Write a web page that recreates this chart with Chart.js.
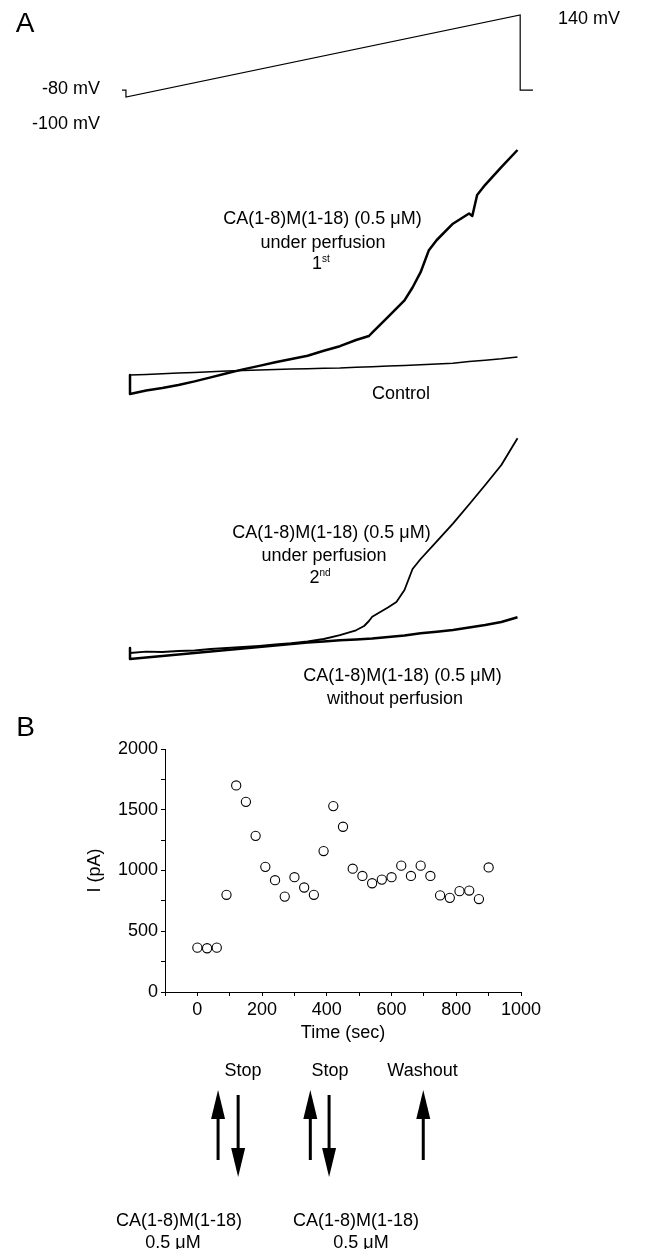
<!DOCTYPE html>
<html>
<head>
<meta charset="utf-8">
<script src="https://cdn.jsdelivr.net/npm/chart.js@4/dist/chart.umd.min.js"></script>
<style>
  body { margin: 0; background: #fff; }
  #page { position: relative; width: 655px; height: 1249px; overflow: hidden;
          font-family: 'Liberation Sans', Arial, sans-serif; color: #000; }
  #page canvas { position: absolute; left: 0; }
  .lbl { position: absolute; white-space: nowrap; font-size: 18px; line-height: 1; }
  .lbl sup { font-size: 10px; line-height: 0; vertical-align: 7px; }
</style>
</head>
<body>
<div id="page">
  <canvas id="ramp" width="655" height="140" style="top:0px"></canvas>
  <canvas id="traces1" width="655" height="280" style="top:130px"></canvas>
  <canvas id="traces2" width="655" height="290" style="top:420px"></canvas>
  <canvas id="timecourse" width="655" height="519" style="top:730px"></canvas>
</div>
<script>
// voltage protocol (ms, mV)
const rampTime = [-4, 0, 0, 400, 400, 413];
const rampVolt = [-80, -80, -100, 140, -80, -80];

// panel A, first pair of ramp currents (mV, pA)
const controlVolt = [-100, -90, -80, -70, -60, -50, -40, -30, -20, -10, 0, 10, 20, 30, 40, 50, 60, 70, 80, 90, 100, 110, 120, 130, 140];
const controlCurr = [-30, -25, -18, -11, -4, 2, 9, 15, 20, 24, 29, 33, 37, 40, 47, 53, 60, 66, 73, 80, 87, 104, 118, 132, 150];

const firstVolt = [-100, -100, -90, -80, -70, -60, -50, -40, -30, -20, -10, 0, 10, 20, 30, 40, 48, 50, 60, 70, 75, 80, 85, 90, 100, 110, 112, 115, 120, 130, 140];
const firstCurr = [-30, -220, -185, -160, -130, -94, -54, -12, 26, 61, 97, 130, 163, 212, 258, 320, 360, 393, 554, 716, 845, 998, 1214, 1320, 1483, 1585, 1560, 1770, 1872, 2049, 2220];

// panel A, second pair
const secondVolt = [-100, -100, -90, -80, -70, -60, -50, -40, -30, -20, -10, 0, 10, 20, 30, 40, 45, 48, 50, 60, 65, 70, 75, 80, 90, 100, 110, 120, 130, 140];
const secondCurr = [20, -30, -17, -20, -10, -5, 10, 20, 30, 42, 55, 68, 85, 110, 148, 197, 240, 290, 333, 428, 480, 600, 810, 910, 1086, 1264, 1455, 1650, 1850, 2117];

const noPerfVolt = [-100, -100, -90, -80, -70, -60, -50, -40, -30, -20, -10, 0, 10, 20, 30, 40, 50, 60, 70, 80, 90, 100, 110, 120, 130, 140];
const noPerfCurr = [20, -90, -75, -60, -45, -30, -15, 0, 15, 30, 45, 60, 74, 85, 98, 105, 114, 130, 145, 168, 183, 200, 225, 250, 280, 327];

// panel B, current at +140 mV over time
const times = [0, 30, 60, 90, 120, 150, 180, 210, 240, 270, 300, 330, 360, 390, 420, 450, 480, 510, 540, 570, 600, 630, 660, 690, 720, 750, 780, 810, 840, 870, 900];
const currents = [365, 360, 365, 800, 1700, 1565, 1285, 1030, 920, 785, 945, 860, 800, 1160, 1530, 1360, 1015, 955, 895, 925, 945, 1040, 955, 1040, 955, 795, 775, 830, 835, 765, 1025];
const applyTimes = [64, 349, 698];  // up arrows (application / washout)
const stopTimes = [126, 407];       // down arrows (stop)

const family = "'Liberation Sans', Arial, sans-serif";
const page = document.getElementById('page');

function label(html, x, y, anchor) {
  const d = document.createElement('div');
  d.className = 'lbl';
  d.innerHTML = html;
  d.style.left = x + 'px';
  d.style.top = y + 'px';
  const tx = anchor === 'right' ? '-100%' : anchor === 'left' ? '0' : '-50%';
  d.style.transform = 'translate(' + tx + ',-50%)';
  page.appendChild(d);
  return d;
}

function points(xs, ys) {
  return xs.map((x, i) => ({ x: x, y: ys[i] }));
}

function lineSet(xs, ys, width) {
  return {
    data: points(xs, ys),
    showLine: true,
    pointRadius: 0,
    borderColor: '#000',
    borderWidth: width,
    borderJoinStyle: 'round',
    tension: 0,
    clip: false,
  };
}

const bare = {
  responsive: false,
  animation: false,
  devicePixelRatio: 1,
  events: [],
  plugins: { legend: { display: false }, tooltip: { enabled: false } },
};

// ramp protocol
new Chart(document.getElementById('ramp'), {
  type: 'scatter',
  data: { datasets: [Object.assign(lineSet(rampTime, rampVolt, 1.2), { borderJoinStyle: 'miter' })] },
  options: Object.assign({}, bare, {
    layout: { padding: { left: 122, right: 122, top: 15, bottom: 43 } },
    scales: {
      x: { type: 'linear', min: -4, max: 413, display: false },
      y: { type: 'linear', min: -100, max: 140, display: false },
    },
  }),
});

function traceChart(id, sets, yMin, yMax) {
  return new Chart(document.getElementById(id), {
    type: 'scatter',
    data: { datasets: sets },
    options: Object.assign({}, bare, {
      layout: { padding: { left: 130, right: 137.5, top: 0, bottom: 0 } },
      scales: {
        x: { type: 'linear', min: -100, max: 140, display: false },
        y: { type: 'linear', min: yMin, max: yMax, display: false },
      },
    }),
  });
}

traceChart('traces1', [
  lineSet(controlVolt, controlCurr, 1.5),
  lineSet(firstVolt, firstCurr, 2.5),
], -380, 2420);

traceChart('traces2', [
  lineSet(noPerfVolt, noPerfCurr, 2.5),
  lineSet(secondVolt, secondCurr, 1.8),
], -600, 2300);

// arrows under panel B, placed on the time axis
function drawArrow(ctx, x, yFrom, yTo) {
  const dir = Math.sign(yTo - yFrom);
  const head = 29, half = 7;
  ctx.beginPath();
  ctx.moveTo(x, yFrom);
  ctx.lineTo(x, yTo - dir * head);
  ctx.stroke();
  ctx.beginPath();
  ctx.moveTo(x, yTo);
  ctx.lineTo(x - half, yTo - dir * head);
  ctx.lineTo(x + half, yTo - dir * head);
  ctx.closePath();
  ctx.fill();
}

const arrowPlugin = {
  id: 'arrows',
  afterDraw(chart) {
    const ctx = chart.ctx;
    const xs = chart.scales.x;
    ctx.save();
    ctx.fillStyle = '#000';
    ctx.strokeStyle = '#000';
    ctx.lineWidth = 3;
    applyTimes.forEach(t => drawArrow(ctx, xs.getPixelForValue(t), 430, 360));
    stopTimes.forEach(t => drawArrow(ctx, xs.getPixelForValue(t), 365, 447));
    ctx.restore();
  },
};

const axisFont = { size: 18, family: family };

new Chart(document.getElementById('timecourse'), {
  type: 'scatter',
  data: {
    datasets: [{
      data: points(times, currents),
      pointStyle: 'circle',
      pointRadius: 4.6,
      pointBorderWidth: 1.1,
      borderColor: '#000',
      backgroundColor: '#fff',
    }],
  },
  options: Object.assign({}, bare, {
    layout: { padding: { left: 84, right: 134, top: 19, bottom: 197 } },
    scales: {
      x: {
        type: 'linear', min: -100, max: 1000,
        afterFit: s => { s.height = 60; },
        border: { display: true, color: '#000', width: 1 },
        grid: { drawOnChartArea: false, tickLength: 4, tickColor: '#000' },
        ticks: {
          stepSize: 100, autoSkip: false, maxRotation: 0, color: '#000', padding: 3, font: axisFont,
          callback: v => (v >= 0 && v % 200 === 0 ? String(v) : ''),
        },
        title: { display: true, text: 'Time (sec)', color: '#000', font: axisFont, padding: { top: 0, bottom: 8 } },
      },
      y: {
        type: 'linear', min: 0, max: 2000,
        afterFit: s => { s.width = 81; },
        border: { display: true, color: '#000', width: 1 },
        grid: { drawOnChartArea: false, tickLength: 4, tickColor: '#000' },
        ticks: {
          stepSize: 250, autoSkip: false, color: '#000', padding: 3, font: axisFont,
          callback: v => (v % 500 === 0 ? String(v) : ''),
        },
        title: { display: true, text: 'I (pA)', color: '#000', font: axisFont, padding: { top: 0, bottom: 0 } },
      },
    },
  }),
  plugins: [arrowPlugin],
});

// text of the figure
label('A', 25, 23).style.fontSize = '28px';
label('-80 mV', 100, 88, 'right');
label('-100 mV', 100, 123, 'right');
label('140 mV', 558, 18, 'left');

label('CA(1-8)M(1-18) (0.5 &mu;M)', 322.5, 218);
label('under perfusion', 323, 241.5);
label('1<sup>st</sup>', 321, 263);
label('Control', 401, 393);

label('CA(1-8)M(1-18) (0.5 &mu;M)', 331.5, 531.5);
label('under perfusion', 324, 555);
label('2<sup>nd</sup>', 320, 576.5);
label('CA(1-8)M(1-18) (0.5 &mu;M)', 402.5, 675);
label('without perfusion', 395, 698);

label('B', 25.5, 727).style.fontSize = '28px';
label('Stop', 243, 1070);
label('Stop', 330, 1070);
label('Washout', 422.5, 1070);
label('CA(1-8)M(1-18)', 179, 1220);
label('0.5 &mu;M', 173, 1241.5);
label('CA(1-8)M(1-18)', 356, 1220);
label('0.5 &mu;M', 361, 1241.5);
</script>
</body>
</html>
